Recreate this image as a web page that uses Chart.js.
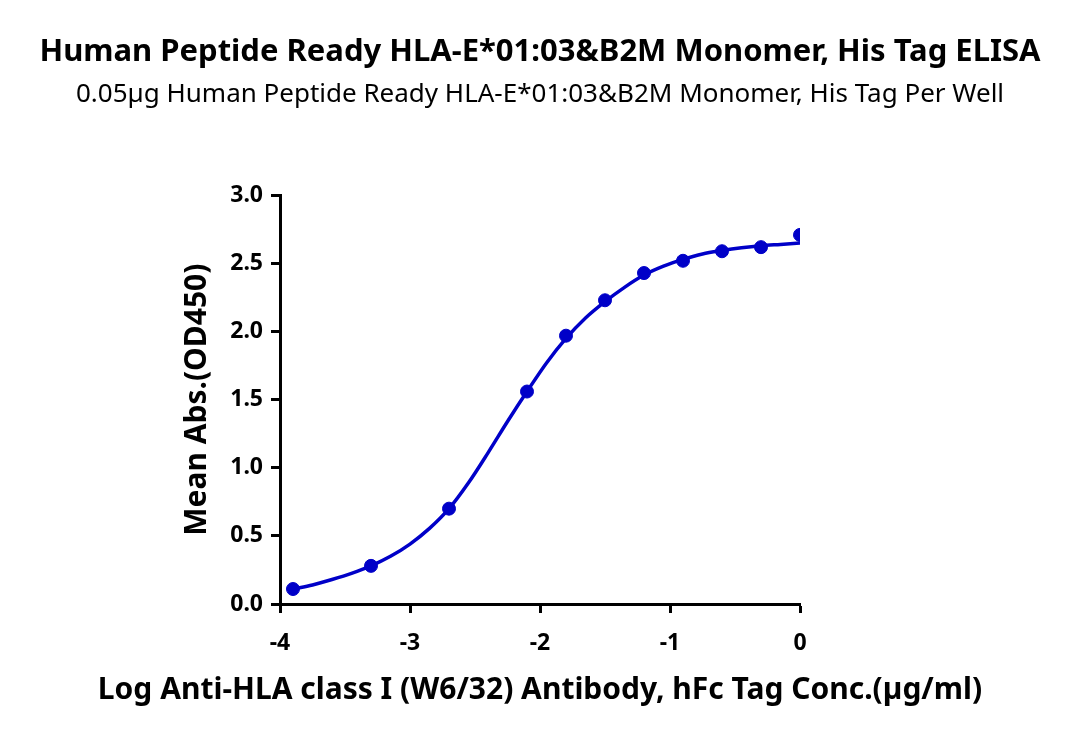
<!DOCTYPE html>
<html>
<head>
<meta charset="utf-8">
<script src="https://cdn.jsdelivr.net/npm/chart.js@4"></script>
<style>
  html, body { margin: 0; padding: 0; background: #fff; }
  #wrap { width: 1080px; height: 740px; }
</style>
</head>
<body>
<div id="wrap"><canvas id="elisa" width="1080" height="740"></canvas></div>
<script>
// measured points (log conc, OD450)
const logConc = [-3.9, -3.3, -2.7, -2.1, -1.8, -1.5, -1.2, -0.9, -0.6, -0.3, 0];
const meanAbs = [0.11, 0.28, 0.70, 1.56, 1.97, 2.23, 2.43, 2.52, 2.59, 2.62, 2.71];

// fitted curve
const fitX = [-3.9, -3.75, -3.6, -3.45, -3.3, -3.15, -3.0, -2.85, -2.7, -2.55, -2.4, -2.25, -2.1,
              -1.95, -1.8, -1.65, -1.5, -1.35, -1.2, -1.05, -0.9, -0.75, -0.6, -0.45, -0.3, -0.15, 0];
const fitY = [0.11, 0.14, 0.18, 0.225, 0.28, 0.35, 0.44, 0.555, 0.70, 0.89, 1.11, 1.34, 1.56,
              1.77, 1.95, 2.10, 2.22, 2.325, 2.415, 2.48, 2.53, 2.57, 2.595, 2.615, 2.63, 2.64, 2.65];

const xTicks = [-4, -3, -2, -1, 0];
const yTicks = [0, 0.5, 1.0, 1.5, 2.0, 2.5, 3.0];

const xTitle = 'Log Anti-HLA class I (W6/32) Antibody, hFc Tag Conc.(µg/ml)';

const blue = '#0000c8';
const font = '"Noto Sans", sans-serif';

// the built-in axis title gets squeezed to the plot width, so draw this one ourselves
const xTitlePlugin = {
  id: 'xTitle',
  afterDraw(chart) {
    const c = chart.ctx;
    c.save();
    c.font = 'bold 30px ' + font;
    c.fillStyle = '#000';
    c.textAlign = 'center';
    c.textBaseline = 'middle';
    c.fillText(xTitle, chart.width / 2, 690);
    c.restore();
  }
};

const ctx = document.getElementById('elisa');
new Chart(ctx, {
  type: 'scatter',
  data: {
    datasets: [
      {
        label: 'fit',
        data: fitX.map((x, i) => ({ x: x, y: fitY[i] })),
        showLine: true,
        borderColor: blue,
        borderWidth: 3.5,
        pointRadius: 0,
        cubicInterpolationMode: 'monotone'
      },
      {
        label: 'data',
        data: logConc.map((x, i) => ({ x: x, y: meanAbs[i] })),
        backgroundColor: blue,
        borderColor: blue,
        pointRadius: 6.5,
        pointHoverRadius: 6.5
      }
    ]
  },
  plugins: [xTitlePlugin],
  options: {
    responsive: false,
    animation: false,
    layout: { padding: 0 },
    plugins: {
      legend: { display: false },
      tooltip: { enabled: false },
      title: {
        display: true,
        text: 'Human Peptide Ready HLA-E*01:03&B2M Monomer, His Tag ELISA',
        color: '#000',
        font: { family: font, size: 31, weight: 'bold', lineHeight: 1.2 },
        padding: { top: 34, bottom: 8 }
      },
      subtitle: {
        display: true,
        text: '0.05µg Human Peptide Ready HLA-E*01:03&B2M Monomer, His Tag Per Well',
        color: '#000',
        font: { family: font, size: 26, lineHeight: 1.2 },
        padding: { top: 0, bottom: 85 }
      }
    },
    scales: {
      x: {
        type: 'linear',
        min: -4,
        max: 0,
        afterBuildTicks: axis => { axis.ticks = xTicks.map(v => ({ value: v })); },
        afterFit: axis => { axis.height = 136; },
        grid: { drawOnChartArea: false, drawTicks: true, tickLength: 9, tickWidth: 3, tickColor: '#000' },
        border: { color: '#000', width: 3 },
        ticks: { color: '#000', font: { family: font, size: 23, weight: 'bold' }, padding: 17, maxRotation: 0 }
      },
      y: {
        type: 'linear',
        position: 'left',
        min: 0,
        max: 3,
        afterBuildTicks: axis => { axis.ticks = yTicks.map(v => ({ value: v })); },
        afterFit: axis => { axis.width = 280; },
        grid: { drawOnChartArea: false, drawTicks: true, tickLength: 9, tickWidth: 3, tickColor: '#000' },
        border: { color: '#000', width: 3 },
        ticks: {
          color: '#000',
          font: { family: font, size: 23, weight: 'bold' },
          padding: 8,
          callback: v => v.toFixed(1)
        },
        title: {
          display: true,
          text: 'Mean Abs.(OD450)',
          color: '#000',
          font: { family: font, size: 30, weight: 'bold', lineHeight: 1.2 },
          padding: { top: 179, bottom: 0 }
        }
      },
      // empty right-hand axis, only keeps the plot off the right edge
      spacer: {
        type: 'linear',
        position: 'right',
        min: 0,
        max: 3,
        afterFit: axis => { axis.width = 280; },
        grid: { display: false },
        border: { display: false },
        ticks: { display: false }
      }
    }
  }
});
</script>
</body>
</html>
